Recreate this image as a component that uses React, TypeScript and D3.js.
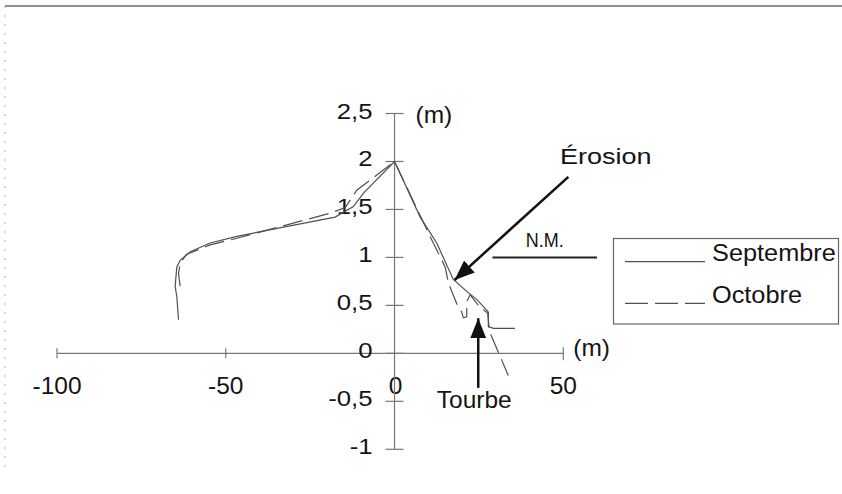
import React from "react";
import * as d3 from "d3";

// ---- data (metres) ----
const septX = [-64.0, -64.5, -65.0, -64.5, -63.5, -60.5, -54.6, -46.7, -17.6, -12.2, -9.2, 0, 7.6, 12.5, 17.4, 21.9, 24.4, 27.3, 27.8, 27.8, 29.3, 35.7];
const septY = [0.35, 0.59, 0.70, 0.90, 0.97, 1.06, 1.15, 1.22, 1.42, 1.53, 1.67, 2.0, 1.42, 1.15, 0.77, 0.63, 0.56, 0.45, 0.43, 0.28, 0.26, 0.26];

const octX = [-63.5, -64.0, -63.5, -61.7, -54.6, -46.7, -19.1, -14.6, -11.2, 0, 10.5, 15.0, 16.0, 18.4, 19.9, 20.4, 21.4, 21.4, 22.4, 25.3, 27.6, 28.1, 33.7];
const octY = [0.70, 0.83, 0.94, 1.03, 1.13, 1.20, 1.46, 1.52, 1.70, 2.0, 1.22, 0.90, 0.73, 0.52, 0.43, 0.37, 0.38, 0.54, 0.61, 0.48, 0.42, 0.23, -0.23];

const xTicks = [-100, -50, 0, 50];
const xTickLabels = ["-100", "-50", "0", "50"];
const yTicks = [-1, -0.5, 0, 0.5, 1, 1.5, 2, 2.5];
const yTickLabels = ["-1", "-0,5", "0", "0,5", "1", "1,5", "2", "2,5"];

const seriesNames = ["Septembre", "Octobre"];
const nmLevel = 1.0;
const nmRange = [29, 60];
const erosionArrow = { from: [51.5, 1.84], to: [17.8, 0.765] };
const tourbeArrow = { from: [24.8, -0.36], to: [24.8, 0.366] };

const FONT = "'Liberation Sans', Arial, Helvetica, sans-serif";

export default function App() {
  const x = d3.scaleLinear().domain([-100, 50]).range([57, 563.3]);
  const y = d3.scaleLinear().domain([-1, 2.5]).range([449.3, 113.5]);

  const line = d3
    .line<[number, number]>()
    .x((d) => x(d[0]))
    .y((d) => y(d[1]));

  const sept: [number, number][] = septX.map((v, i) => [v, septY[i]]);
  const oct: [number, number][] = octX.map((v, i) => [v, octY[i]]);

  const x0 = x(0);
  const y0 = y(0);
  const lineColor = "#505050";
  const axisColor = "#777";
  const textColor = "#141414";

  return (
    <svg
      width={842}
      height={494}
      style={{ position: "absolute", left: 0, top: 0, background: "#fff" }}
      fontFamily={FONT}
    >
      <defs>
        <marker
          id="ah"
          markerUnits="userSpaceOnUse"
          markerWidth={22}
          markerHeight={16}
          refX={20}
          refY={8}
          orient="auto"
        >
          <path d="M0,0 L20,8 L0,16 Z" fill="#111" />
        </marker>
      </defs>

      {/* scan frame */}
      <line x1={5} y1={6} x2={842} y2={6} stroke="#6a6a6a" strokeWidth={1.5} />
      <line x1={5} y1={6} x2={5} y2={470} stroke="#b0b0b0" strokeWidth={1} strokeDasharray="2,7" />

      {/* x axis */}
      <line x1={x(-100)} y1={y0} x2={x(50)} y2={y0} stroke={axisColor} strokeWidth={1.2} />
      {xTicks.map((t) =>
        t === 0 ? null : (
          <line
            key={"xt" + t}
            x1={x(t)}
            x2={x(t)}
            y1={y0 - (t === 50 ? 6 : 5)}
            y2={y0 + (t === 50 ? 7 : 5)}
            stroke={axisColor}
            strokeWidth={1.2}
          />
        )
      )}
      {xTicks.map((t, i) => (
        <text
          key={"xl" + t}
          x={x(t) + (t === 0 ? 1 : 0)}
          y={y0 + 41}
          fontSize={24.5}
          textAnchor="middle"
          fill={textColor}
        >
          {xTickLabels[i]}
        </text>
      ))}
      <text x={x(50) + 10} y={y0 + 3} fontSize={24.5} fill={textColor}>
        (m)
      </text>

      {/* y axis */}
      <line x1={x0} y1={y(2.5)} x2={x0} y2={y(-1)} stroke={axisColor} strokeWidth={1.2} />
      {yTicks.map((t) => (
        <line
          key={"yt" + t}
          x1={x0 - 9}
          x2={x0 + 9}
          y1={y(t)}
          y2={y(t)}
          stroke={axisColor}
          strokeWidth={1.2}
        />
      ))}
      {yTicks.map((t, i) => (
        <text
          key={"yl" + t}
          transform={`translate(${x0 - 22},${y(t) + 5}) scale(1.17,1)`}
          fontSize={22}
          textAnchor="end"
          fill={textColor}
        >
          {yTickLabels[i]}
        </text>
      ))}
      <text x={x0 + 21} y={y(2.5) + 9} fontSize={24.5} fill={textColor}>
        (m)
      </text>

      {/* data */}
      <path d={line(oct) ?? ""} fill="none" stroke={lineColor} strokeWidth={1.2} strokeDasharray="20,7" />
      <path d={line(sept) ?? ""} fill="none" stroke={lineColor} strokeWidth={1.2} />

      {/* N.M. */}
      <line x1={x(nmRange[0])} x2={x(nmRange[1])} y1={y(nmLevel)} y2={y(nmLevel)} stroke="#222" strokeWidth={2} />
      <text
        transform={`translate(${(x(nmRange[0]) + x(nmRange[1])) / 2},${y(nmLevel) - 10}) scale(0.9,1)`}
        fontSize={20}
        textAnchor="middle"
        fill={textColor}
      >
        N.M.
      </text>

      {/* annotations */}
      <line
        x1={x(erosionArrow.from[0])}
        y1={y(erosionArrow.from[1])}
        x2={x(erosionArrow.to[0])}
        y2={y(erosionArrow.to[1])}
        stroke="#111"
        strokeWidth={2.5}
        markerEnd="url(#ah)"
      />
      <text
        transform={`translate(560,164.3) scale(1.2,1)`}
        fontSize={22.5}
        fill={textColor}
      >
        Érosion
      </text>
      <line
        x1={x(tourbeArrow.from[0])}
        y1={y(tourbeArrow.from[1])}
        x2={x(tourbeArrow.to[0])}
        y2={y(tourbeArrow.to[1])}
        stroke="#111"
        strokeWidth={2.5}
        markerEnd="url(#ah)"
      />
      <text x={x(tourbeArrow.from[0]) - 4} y={408} fontSize={24.5} textAnchor="middle" fill={textColor}>
        Tourbe
      </text>

      {/* legend */}
      <rect x={613.5} y={238.5} width={225} height={85.5} fill="none" stroke="#666" strokeWidth={1.2} />
      <line x1={625} x2={705} y1={261.7} y2={261.7} stroke={lineColor} strokeWidth={1.2} />
      <text transform="translate(712,261) scale(1.055,1)" fontSize={24} fill={textColor}>
        {seriesNames[0]}
      </text>
      <line x1={625} x2={705} y1={303.3} y2={303.3} stroke={lineColor} strokeWidth={1.2} strokeDasharray="23,7" />
      <text transform="translate(712,303) scale(1.055,1)" fontSize={24} fill={textColor}>
        {seriesNames[1]}
      </text>
    </svg>
  );
}
